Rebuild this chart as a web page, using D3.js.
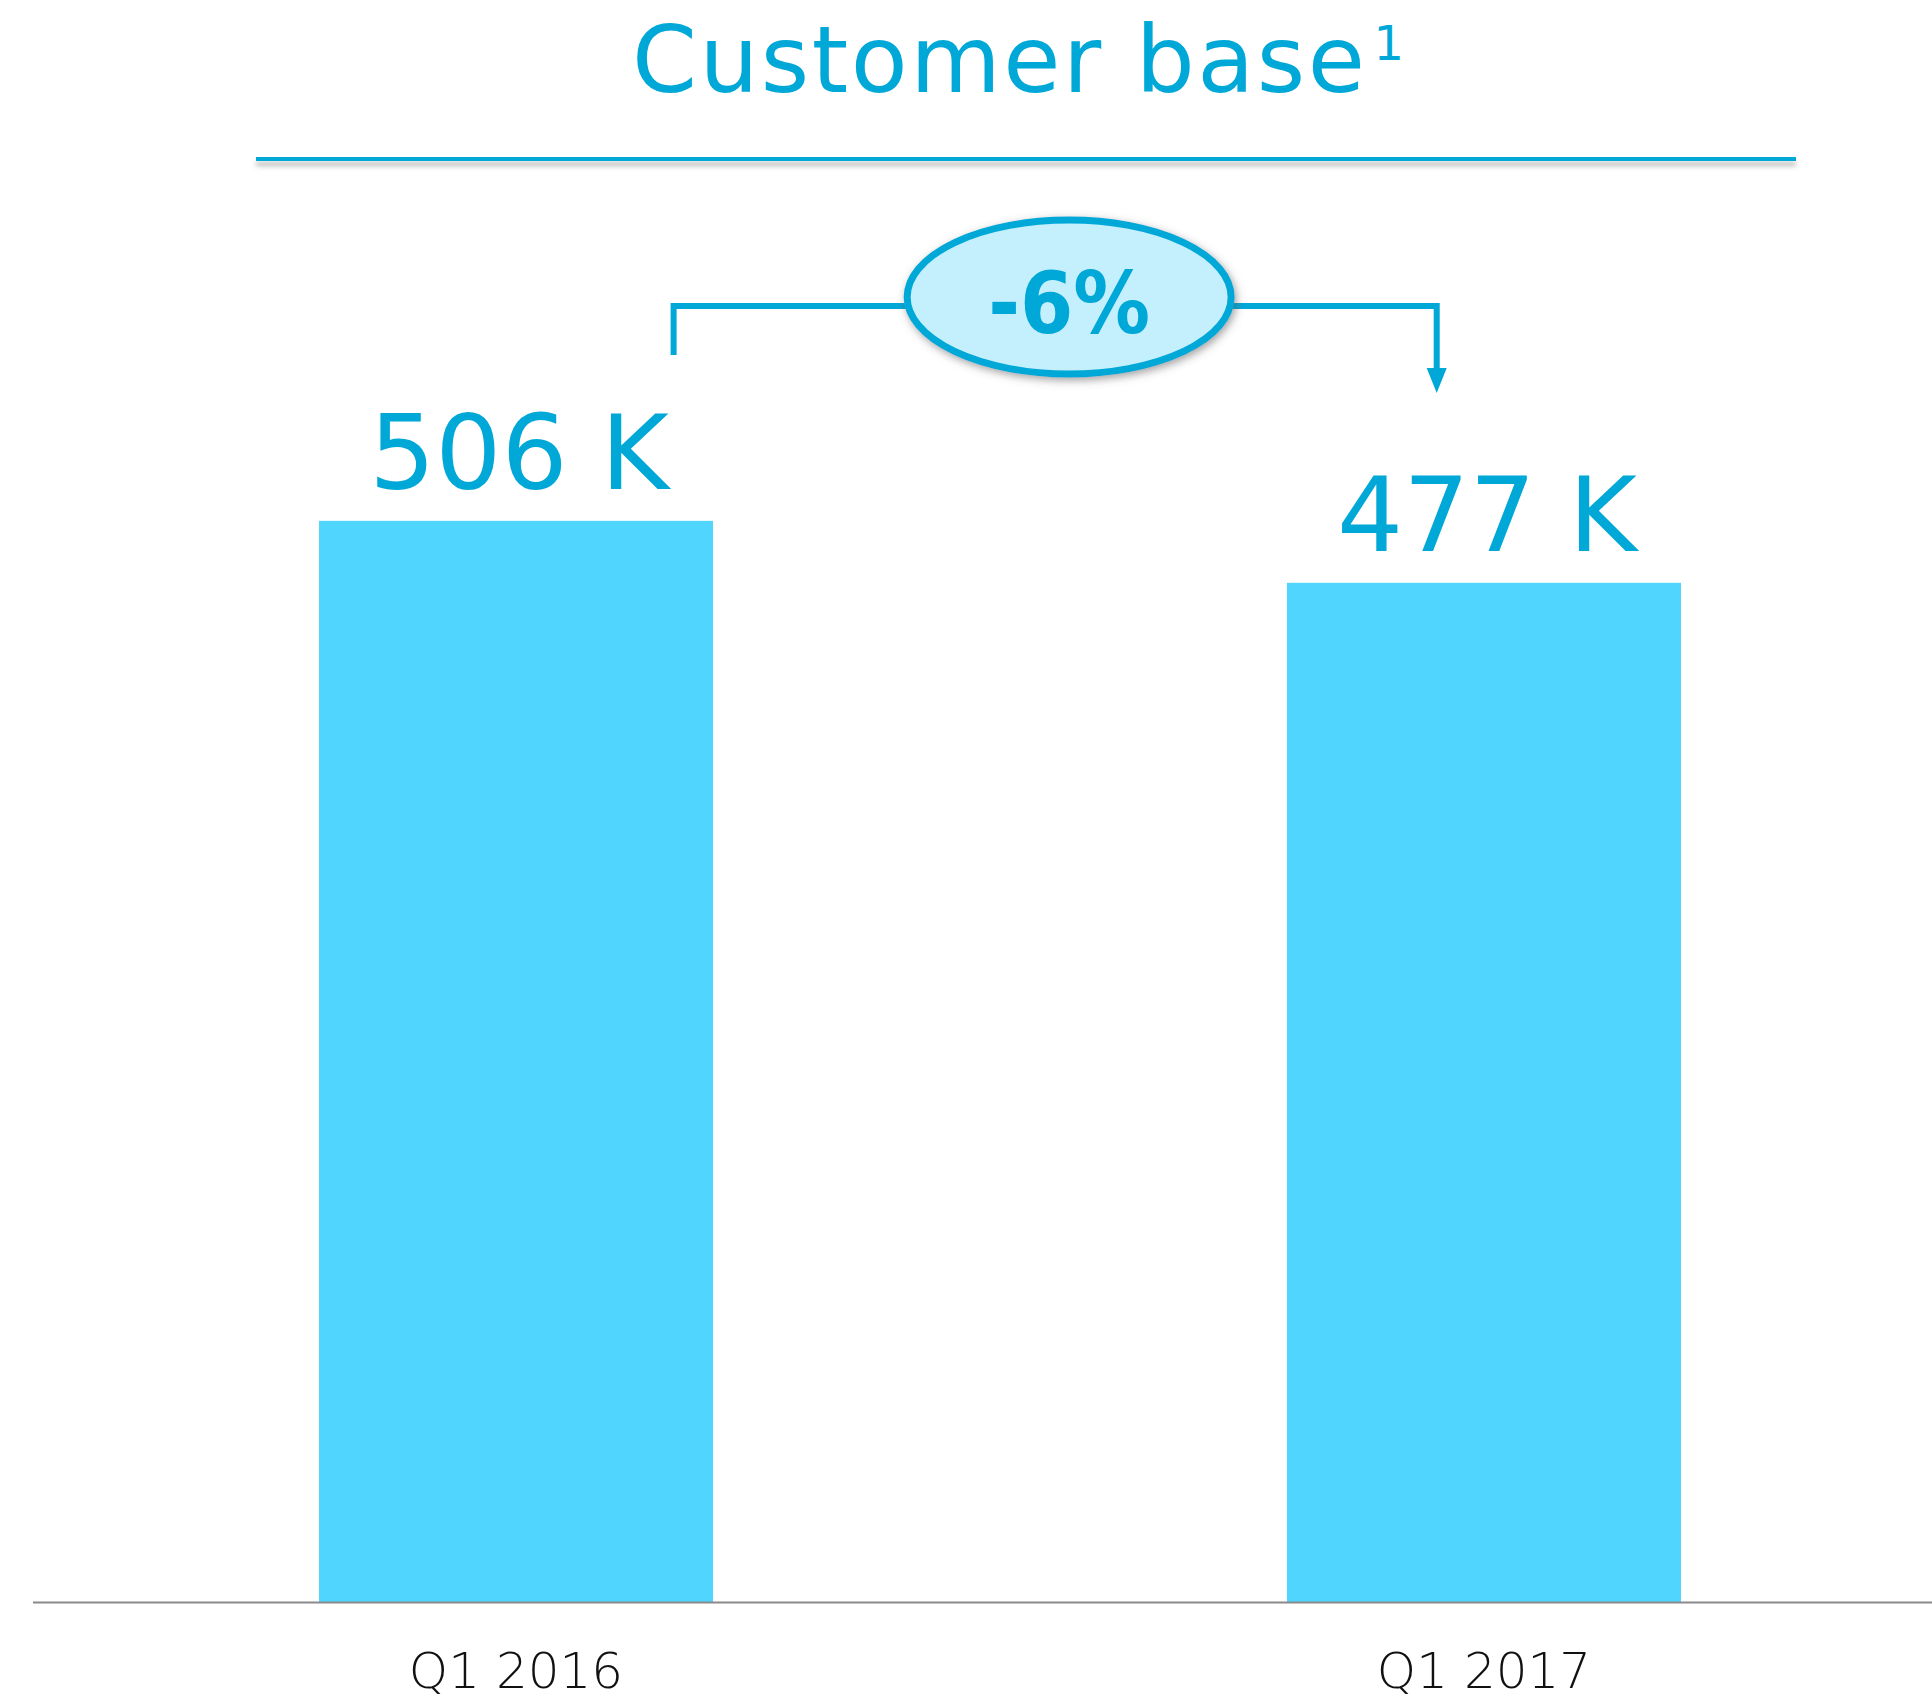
<!DOCTYPE html>
<html>
<head>
<meta charset="utf-8">
<script src="https://cdn.jsdelivr.net/npm/d3@7"></script>
<style>
  body { margin: 0; background: #fff; }
  svg { display: block; }
</style>
</head>
<body>
<svg id="chart" width="1932" height="1704"></svg>
<script>
const categories = ['Q1 2016', 'Q1 2017'];
const customers = [506, 477];      // thousands
const valueLabels = ['506 K', '477 K'];
const changeLabel = '-6%';
const titleText = 'Customer base';

const blue = '#00a8d8';
const barColor = '#50d5fe';

const svg = d3.select('#chart');
const width = 1932;

const defs = svg.append('defs');
const lineShadow = defs.append('filter').attr('id', 'lineShadow')
    .attr('filterUnits', 'userSpaceOnUse')
    .attr('x', 200).attr('y', 140).attr('width', 1650).attr('height', 50);
lineShadow.append('feDropShadow')
    .attr('dx', 0).attr('dy', 5).attr('stdDeviation', 2.5)
    .attr('flood-color', '#888').attr('flood-opacity', 0.6);

const ellShadow = defs.append('filter').attr('id', 'ellShadow')
    .attr('x', '-20%').attr('y', '-20%').attr('width', '140%').attr('height', '140%');
ellShadow.append('feDropShadow')
    .attr('dx', 2).attr('dy', 3).attr('stdDeviation', 4)
    .attr('flood-color', '#555').attr('flood-opacity', 0.55);

// scales
const x = d3.scaleBand()
    .domain(categories)
    .range([33, 1967])
    .paddingInner(0.593)
    .paddingOuter(0.2955);

const y = d3.scaleLinear()
    .domain([0, 600])
    .range([1602, 320]);

// title
const title = svg.append('text')
    .attr('x', 1018)
    .attr('y', 92)
    .attr('text-anchor', 'middle')
    .attr('font-family', 'DejaVu Sans')
    .attr('font-size', 93)
    .attr('letter-spacing', 2.5)
    .attr('fill', blue)
    .text(titleText);
title.append('tspan')
    .attr('dy', -32)
    .attr('dx', 6)
    .attr('font-size', 48)
    .attr('letter-spacing', 0)
    .text('1');

svg.append('rect')
    .attr('x', 256).attr('width', 1540)
    .attr('y', 157).attr('height', 4)
    .attr('fill', blue)
    .attr('filter', 'url(#lineShadow)');

// bars
svg.selectAll('rect.bar')
    .data(customers)
    .join('rect')
    .attr('class', 'bar')
    .attr('x', (d, i) => x(categories[i]))
    .attr('y', d => y(d))
    .attr('width', x.bandwidth())
    .attr('height', d => y(0) - y(d))
    .attr('fill', barColor);

// value labels
svg.selectAll('text.value')
    .data(customers)
    .join('text')
    .attr('class', 'value')
    .attr('x', (d, i) => x(categories[i]) + x.bandwidth() / 2 + 3)
    .attr('y', d => y(d) - 32)
    .attr('text-anchor', 'middle')
    .attr('font-family', 'DejaVu Sans')
    .attr('font-size', 104)
    .attr('fill', blue)
    .text((d, i) => valueLabels[i]);

// x axis
const xAxis = svg.append('g')
    .attr('transform', `translate(0,${y(0)})`)
    .call(d3.axisBottom(x).tickSize(0).tickPadding(50));
xAxis.select('.domain').remove();
xAxis.append('line')
    .attr('x1', 33).attr('x2', width)
    .attr('y1', 0.5).attr('y2', 0.5)
    .attr('stroke', '#8a8a8a')
    .attr('stroke-width', 2);
xAxis.selectAll('.tick text')
    .attr('font-family', 'DejaVu Sans')
    .attr('font-weight', 200)
    .attr('font-size', 50)
    .attr('fill', '#111');

// change bracket
const leftX = x(categories[0]) + x.bandwidth() * 0.9;
const rightX = x(categories[1]) + x.bandwidth() * 0.38;
const bracketY = 306;

svg.append('path')
    .attr('d', d3.line()([[leftX, 355], [leftX, bracketY], [rightX, bracketY], [rightX, 372]]))
    .attr('fill', 'none')
    .attr('stroke', blue)
    .attr('stroke-width', 6);

svg.append('path')
    .attr('d', d3.line()([[rightX - 10, 368], [rightX + 10, 368], [rightX, 393]]) + 'Z')
    .attr('fill', blue);

const cx = (leftX + rightX) / 2 + 14;
svg.append('ellipse')
    .attr('cx', cx).attr('cy', 297)
    .attr('rx', 162).attr('ry', 77)
    .attr('fill', '#c4effd')
    .attr('stroke', blue)
    .attr('stroke-width', 7)
    .attr('filter', 'url(#ellShadow)');

svg.append('text')
    .attr('x', cx)
    .attr('y', 333)
    .attr('text-anchor', 'middle')
    .attr('font-family', 'DejaVu Sans')
    .attr('font-weight', 'bold')
    .attr('font-size', 86)
    .attr('textLength', 162)
    .attr('lengthAdjust', 'spacingAndGlyphs')
    .attr('fill', blue)
    .text(changeLabel);
</script>
</body>
</html>
